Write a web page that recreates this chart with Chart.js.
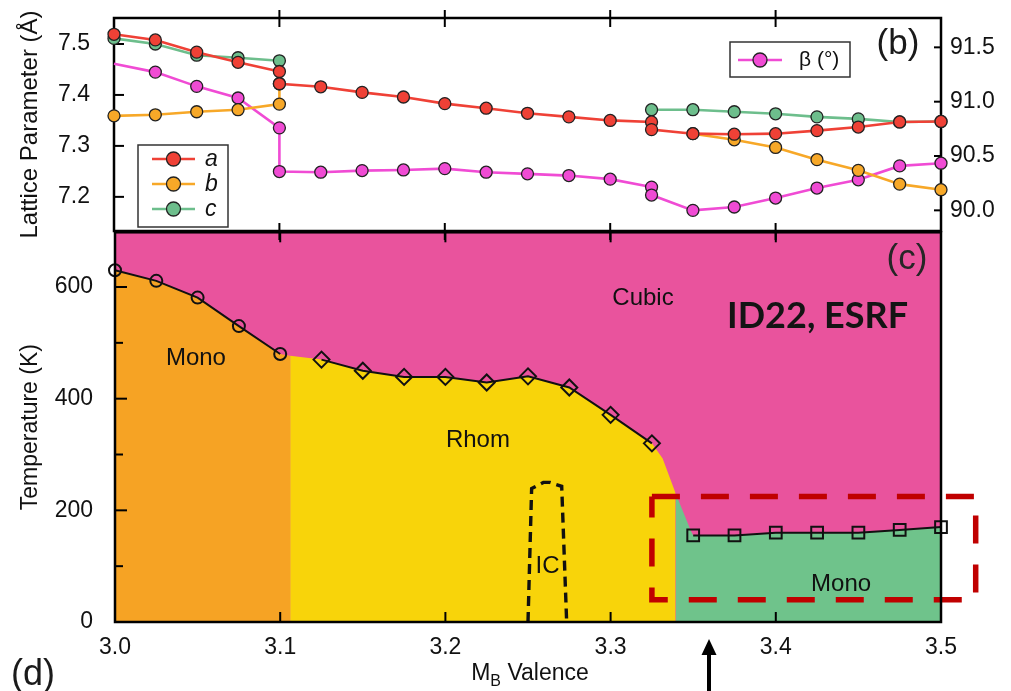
<!DOCTYPE html>
<html>
<head>
<meta charset="utf-8">
<script src="https://cdn.jsdelivr.net/npm/chart.js@4.4.1/dist/chart.umd.min.js"></script>
<style>
  html, body { margin: 0; padding: 0; background: #fff; width: 1011px; height: 691px; overflow: hidden; }
  #wrap { position: relative; width: 1011px; height: 691px; }
  canvas { position: absolute; left: 0; }
  #latticeCanvas { top: 0; z-index: 2; }
  #phaseCanvas { top: 222px; z-index: 1; }
</style>
</head>
<body>
<div id="wrap">
  <canvas id="phaseCanvas" width="1011" height="469"></canvas>
  <canvas id="latticeCanvas" width="1011" height="262"></canvas>
</div>
<script>
// ---------- (b) lattice parameters vs M_B valence ----------
const aValence = [3.0, 3.025, 3.05, 3.075, 3.1, 3.1, 3.125, 3.15, 3.175, 3.2, 3.225, 3.25, 3.275, 3.3, 3.325, 3.325, 3.35, 3.375, 3.4, 3.425, 3.45, 3.475, 3.5];
const aLattice = [7.519, 7.508, 7.484, 7.464, 7.446, 7.422, 7.416, 7.405, 7.396, 7.383, 7.374, 7.364, 7.357, 7.350, 7.347, 7.332, 7.324, 7.323, 7.324, 7.330, 7.337, 7.347, 7.348];

const bValence = [3.0, 3.025, 3.05, 3.075, 3.1, 3.1, 3.2, 3.35, 3.375, 3.4, 3.425, 3.45, 3.475, 3.5];
const bLattice = [7.359, 7.361, 7.367, 7.371, 7.382, 7.422, null, 7.324, 7.312, 7.297, 7.273, 7.252, 7.225, 7.214];

const cValence = [3.0, 3.025, 3.05, 3.075, 3.1, 3.2, 3.325, 3.35, 3.375, 3.4, 3.425, 3.45, 3.475, 3.5];
const cLattice = [7.511, 7.500, 7.478, 7.473, 7.467, null, 7.371, 7.371, 7.367, 7.363, 7.357, 7.353, 7.347, 7.348];

const betaValence = [3.0, 3.025, 3.05, 3.075, 3.1, 3.1, 3.125, 3.15, 3.175, 3.2, 3.225, 3.25, 3.275, 3.3, 3.325, 3.325, 3.35, 3.375, 3.4, 3.425, 3.45, 3.475, 3.5];
const betaAngle = [91.349, 91.272, 91.141, 91.034, 90.759, 90.357, 90.351, 90.366, 90.372, 90.384, 90.351, 90.336, 90.320, 90.287, 90.214, 90.141, 90.000, 90.031, 90.113, 90.205, 90.281, 90.409, 90.434];

// ---------- (c) phase diagram ----------
const monoLowValence = [3.0, 3.025, 3.05, 3.075, 3.1];
const monoLowTc = [630, 611, 581, 530, 480];
const rhomValence = [3.125, 3.15, 3.175, 3.2, 3.225, 3.25, 3.275, 3.3, 3.325];
const rhomTc = [470, 450, 439, 439, 429, 440, 420, 371, 320];
const monoHighValence = [3.35, 3.375, 3.4, 3.425, 3.45, 3.475, 3.5];
const monoHighTc = [155, 155, 160, 160, 160, 165, 170];

// phase-region outlines (upper edge of each filled area)
const cubicEdgeValence = [3.0, 3.5];
const cubicEdgeT = [698, 698];
const monoLowEdgeValence = [3.0, 3.025, 3.05, 3.075, 3.1, 3.106];
const monoLowEdgeT = [630, 611, 581, 530, 480, 477];
const rhomEdgeValence = [3.106, 3.125, 3.15, 3.175, 3.2, 3.225, 3.25, 3.275, 3.3, 3.325, 3.3315, 3.3394];
const rhomEdgeT = [477, 470, 450, 439, 439, 429, 440, 420, 371, 320, 293, 230];
const monoHighEdgeValence = [3.3394, 3.3485, 3.35, 3.375, 3.4, 3.425, 3.45, 3.475, 3.5];
const monoHighEdgeT = [230, 164, 155, 155, 160, 160, 160, 165, 170];

// incommensurate dome
const icValence = [3.250, 3.2522, 3.2593, 3.2633, 3.2704, 3.2734];
const icT = [0, 239, 250, 250, 243, 0];

// highlighted low-temperature monoclinic window
const boxValence = [3.325, 3.521, 3.521, 3.325, 3.325];
const boxT = [225, 225, 40, 40, 225];

// ---------- styling ----------
const FONT = "'Liberation Sans', Arial, Helvetica, sans-serif";
Chart.defaults.font.family = FONT;
Chart.defaults.color = '#111';

const RED = '#EF4136';
const ORANGE = '#F7A828';
const GREEN = '#6DBE8C';
const MAGENTA = '#F04BD4';

const PINK_FILL = '#E9539D';
const ORANGE_FILL = '#F6A324';
const YELLOW_FILL = '#F8D40A';
const GREEN_FILL = '#6FC38B';

const toPoints = (xs, ys) => xs.map((x, i) => ({ x, y: ys[i] }));

function seriesStyle(color) {
  return {
    borderColor: color,
    backgroundColor: color,
    pointBackgroundColor: color,
    pointBorderColor: '#222',
    pointBorderWidth: 1.3,
    pointRadius: 6,
    borderWidth: 2.6,
    tension: 0,
    spanGaps: false,
    clip: false,
    fill: false
  };
}

// fixed axis sizes so both panels share the same plot frame
const fixWidth = w => s => { s.width = w; s.paddingTop = 0; s.paddingBottom = 0; };
const fixHeight = h => s => { s.height = h; s.paddingLeft = 0; s.paddingRight = 0; };

// frame + inward ticks drawn through the chart's scales
function drawFrame(chart, opts) {
  const { ctx, chartArea: ca } = chart;
  ctx.save();
  ctx.strokeStyle = '#000';
  ctx.lineWidth = 2.5;
  ctx.strokeRect(ca.left, ca.top, ca.right - ca.left, ca.bottom - ca.top);
  ctx.lineWidth = 2;
  const mark = (side, p, len, out) => {
    ctx.beginPath();
    if (side === 'top') { ctx.moveTo(p, ca.top - out); ctx.lineTo(p, ca.top + len); }
    if (side === 'bottom') { ctx.moveTo(p, ca.bottom + out); ctx.lineTo(p, ca.bottom - len); }
    if (side === 'left') { ctx.moveTo(ca.left - out, p); ctx.lineTo(ca.left + len, p); }
    if (side === 'right') { ctx.moveTo(ca.right + out, p); ctx.lineTo(ca.right - len, p); }
    ctx.stroke();
  };
  (opts.ticks || []).forEach(spec => {
    const scale = chart.scales[spec.scale];
    const vals = scale.ticks.map(t => t.value);
    const step = vals.length > 1 ? vals[1] - vals[0] : 0;
    vals.forEach(v => {
      const inside = (val) => val > scale.min + 1e-9 && val < scale.max - 1e-9;
      if (inside(v)) mark(spec.side, scale.getPixelForValue(v), spec.len, spec.out || 0);
      if (spec.minorLen && step && inside(v + step / 2)) {
        mark(spec.side, scale.getPixelForValue(v + step / 2), spec.minorLen, 0);
      }
    });
  });
  ctx.restore();
}

const framePlugin = {
  id: 'frame',
  beforeDatasetsDraw(chart, args, opts) { if (opts.layer === 'under') drawFrame(chart, opts); },
  afterDatasetsDraw(chart, args, opts) { if (opts.layer !== 'under') drawFrame(chart, opts); }
};

function legendMarker(ctx, ds, x1, x2, y, r) {
  ctx.save();
  ctx.strokeStyle = ds.borderColor;
  ctx.lineWidth = ds.borderWidth;
  ctx.beginPath(); ctx.moveTo(x1, y); ctx.lineTo(x2, y); ctx.stroke();
  ctx.beginPath(); ctx.arc((x1 + x2) / 2, y, r, 0, Math.PI * 2);
  ctx.fillStyle = ds.pointBackgroundColor; ctx.fill();
  ctx.strokeStyle = ds.pointBorderColor; ctx.lineWidth = ds.pointBorderWidth; ctx.stroke();
  ctx.restore();
}

const latticeLegendPlugin = {
  id: 'latticeLegend',
  afterDraw(chart) {
    const ctx = chart.ctx;
    const ds = chart.data.datasets;
    ctx.save();
    // a, b, c box
    ctx.fillStyle = '#fff';
    ctx.fillRect(138, 145, 90, 82);
    ctx.strokeStyle = '#333';
    ctx.lineWidth = 1.5;
    ctx.strokeRect(138, 145, 90, 82);
    const rows = [159, 184, 209];
    [0, 1, 2].forEach((i, k) => {
      legendMarker(ctx, ds[i], 152, 195, rows[k], 7);
      ctx.fillStyle = '#111';
      ctx.font = 'italic 23px ' + FONT;
      ctx.textBaseline = 'middle';
      ctx.textAlign = 'left';
      ctx.fillText(ds[i].label, 205, rows[k] + 1);
    });
    // beta box
    ctx.fillStyle = '#fff';
    ctx.fillRect(730, 42, 120, 35);
    ctx.strokeStyle = '#333';
    ctx.lineWidth = 1.5;
    ctx.strokeRect(730, 42, 120, 35);
    legendMarker(ctx, ds[3], 738, 782, 60, 7);
    ctx.fillStyle = '#111';
    ctx.font = '21px ' + FONT;
    ctx.textBaseline = 'middle';
    ctx.fillText(ds[3].label, 799, 60);
    // panel letter
    ctx.font = '35px ' + FONT;
    ctx.textAlign = 'center';
    ctx.fillStyle = '#1a1a1a';
    ctx.fillText('(b)', 898, 44);
    ctx.restore();
  }
};

const betaRadius = betaValence.map((v, i) => (i === 0 ? 0 : 6));

new Chart(document.getElementById('latticeCanvas'), {
  type: 'line',
  data: {
    datasets: [
      Object.assign({ label: 'a', data: toPoints(aValence, aLattice), yAxisID: 'y', order: 0 }, seriesStyle(RED)),
      Object.assign({ label: 'b', data: toPoints(bValence, bLattice), yAxisID: 'y', order: 1 }, seriesStyle(ORANGE)),
      Object.assign({ label: 'c', data: toPoints(cValence, cLattice), yAxisID: 'y', order: 2 }, seriesStyle(GREEN)),
      Object.assign({ label: 'β (°)', data: toPoints(betaValence, betaAngle), yAxisID: 'y2', order: 3 }, seriesStyle(MAGENTA), { pointRadius: betaRadius })
    ]
  },
  options: {
    responsive: false,
    animation: false,
    events: [],
    layout: { padding: { top: 18, left: 0, right: 0, bottom: 0 } },
    plugins: {
      legend: { display: false },
      tooltip: { enabled: false },
      frame: {
        layer: 'under',
        ticks: [
          { scale: 'x', side: 'top', len: 9, out: 8 },
          { scale: 'x', side: 'bottom', len: 8, out: 9 },
          { scale: 'y', side: 'left', len: 10 },
          { scale: 'y2', side: 'right', len: 7 }
        ]
      }
    },
    scales: {
      x: {
        type: 'linear', min: 3.0, max: 3.5,
        ticks: { display: false, stepSize: 0.1, callback: v => v.toFixed(1) },
        grid: { display: false, drawTicks: false },
        border: { display: false },
        afterFit: fixHeight(31)
      },
      y: {
        position: 'left', min: 7.133, max: 7.551,
        ticks: { stepSize: 0.1, includeBounds: false, padding: 24, font: { size: 23 }, color: '#111', callback: v => v.toFixed(1) },
        grid: { display: false, drawTicks: false },
        border: { display: false },
        title: { display: true, text: 'Lattice Parameter (Å)', font: { size: 24 }, color: '#111', padding: { top: 16, bottom: 0 } },
        afterFit: fixWidth(114)
      },
      y2: {
        position: 'right', min: 89.81, max: 91.77,
        ticks: { stepSize: 0.5, includeBounds: false, padding: 9, font: { size: 23 }, color: '#111', callback: v => v.toFixed(1) },
        grid: { display: false, drawTicks: false },
        border: { display: false },
        afterFit: fixWidth(70)
      }
    }
  },
  plugins: [framePlugin, latticeLegendPlugin]
});

// ---------- phase diagram ----------
const phaseLabels = [
  { text: 'Cubic', x: 3.3196, t: 580, font: '24px ' + FONT, color: '#111', align: 'center' },
  { text: 'Mono', x: 3.0490, t: 473, font: '24px ' + FONT, color: '#111', align: 'center' },
  { text: 'Rhom', x: 3.2197, t: 325, font: '24px ' + FONT, color: '#111', align: 'center' },
  { text: 'IC', x: 3.2618, t: 100, font: '24px ' + FONT, color: '#111', align: 'center' },
  { text: 'Mono', x: 3.4395, t: 68, font: '24px ' + FONT, color: '#111', align: 'center' },
  { text: 'ID22, ESRF', x: 3.3705, t: 548, font: 'bold 36px Lato, ' + FONT, color: '#141414', align: 'left' },
  { text: '(c)', x: 3.4794, t: 650, font: '35px ' + FONT, color: '#262626', align: 'center' }
];

const phaseAnnotationPlugin = {
  id: 'phaseAnnotations',
  afterDraw(chart) {
    const { ctx, scales: { x, y } } = chart;
    ctx.save();
    ctx.textBaseline = 'middle';
    phaseLabels.forEach(l => {
      ctx.font = l.font;
      ctx.fillStyle = l.color;
      ctx.textAlign = l.align;
      ctx.fillText(l.text, x.getPixelForValue(l.x), y.getPixelForValue(l.t));
    });
    // axis title with subscript
    const big = '23px ' + FONT, small = '16px ' + FONT;
    ctx.font = big; const wM = ctx.measureText('M').width;
    const wV = ctx.measureText(' Valence').width;
    ctx.font = small; const wB = ctx.measureText('B').width;
    const total = wM + wB + wV;
    let tx = 530 - total / 2;
    const ty = 458;
    ctx.textAlign = 'left';
    ctx.textBaseline = 'alphabetic';
    ctx.fillStyle = '#111';
    ctx.font = big; ctx.fillText('M', tx, ty); tx += wM;
    ctx.font = small; ctx.fillText('B', tx, ty + 6); tx += wB;
    ctx.font = big; ctx.fillText(' Valence', tx, ty);
    // panel letter (d)
    ctx.font = '36px ' + FONT;
    ctx.textBaseline = 'middle';
    ctx.textAlign = 'center';
    ctx.fillStyle = '#1a1a1a';
    ctx.fillText('(d)', 33, 453);
    // arrow marking the studied composition
    ctx.strokeStyle = '#000';
    ctx.fillStyle = '#000';
    ctx.lineWidth = 4;
    ctx.beginPath(); ctx.moveTo(709, 469); ctx.lineTo(709, 428); ctx.stroke();
    ctx.beginPath(); ctx.moveTo(709, 417); ctx.lineTo(701.5, 433); ctx.lineTo(716.5, 433); ctx.closePath(); ctx.fill();
    ctx.restore();
  }
};

function region(label, xs, ts, color, order) {
  return {
    label, data: toPoints(xs, ts), fill: 'origin', backgroundColor: color,
    borderWidth: 0, borderColor: color, pointRadius: 0, tension: 0, order
  };
}

function boundary(label, xs, ts, style, radius, order) {
  return {
    label, data: toPoints(xs, ts), fill: false, borderColor: '#111', borderWidth: 2,
    pointStyle: style, pointRadius: radius, pointBackgroundColor: 'rgba(0,0,0,0)',
    pointBorderColor: '#111', pointBorderWidth: 2, tension: 0, clip: false, order
  };
}

new Chart(document.getElementById('phaseCanvas'), {
  type: 'line',
  data: {
    datasets: [
      region('Cubic', cubicEdgeValence, cubicEdgeT, PINK_FILL, 20),
      region('Mono', monoLowEdgeValence, monoLowEdgeT, ORANGE_FILL, 19),
      region('Rhom', rhomEdgeValence, rhomEdgeT, YELLOW_FILL, 18),
      region('Mono (high valence)', monoHighEdgeValence, monoHighEdgeT, GREEN_FILL, 17),
      {
        label: 'IC', data: toPoints(icValence, icT), fill: false, borderColor: '#111',
        borderWidth: 3.4, borderDash: [10, 6], pointRadius: 0, tension: 0, order: 5
      },
      boundary('Mono → Cubic', monoLowValence, monoLowTc, 'circle', 6, 3),
      boundary('Rhom → Cubic', rhomValence, rhomTc, 'rectRot', 8, 3),
      boundary('Mono → Cubic (high valence)', monoHighValence, monoHighTc, 'rect', 8.3, 3),
      {
        label: 'window', data: toPoints(boxValence, boxT), fill: false, borderColor: '#C00000',
        borderWidth: 5.5, borderDash: [28, 21], borderCapStyle: 'butt', pointRadius: 0,
        tension: 0, clip: false, order: 1
      }
    ]
  },
  options: {
    responsive: false,
    animation: false,
    events: [],
    layout: { padding: { top: 9, left: 0, right: 70, bottom: 0 } },
    plugins: {
      legend: { display: false },
      tooltip: { enabled: false },
      frame: {
        layer: 'over',
        ticks: [
          { scale: 'x', side: 'top', len: 10 },
          { scale: 'x', side: 'bottom', len: 10 },
          { scale: 'y', side: 'left', len: 12, minorLen: 8 }
        ]
      }
    },
    scales: {
      x: {
        type: 'linear', min: 3.0, max: 3.5,
        ticks: { stepSize: 0.1, padding: 12, font: { size: 23 }, color: '#111', callback: v => v.toFixed(1), maxRotation: 0, autoSkip: false },
        grid: { display: false, drawTicks: false },
        border: { display: false },
        afterFit: fixHeight(69)
      },
      y: {
        position: 'left', min: 0, max: 698,
        ticks: {
          stepSize: 200, includeBounds: false, padding: 22, font: { size: 23 }, color: '#111', autoSkip: false,
          callback: v => String(Math.round(v))
        },
        grid: { display: false, drawTicks: false },
        border: { display: false },
        title: { display: true, text: 'Temperature (K)', font: { size: 23 }, color: '#111', padding: { top: 17, bottom: 0 } },
        afterFit: fixWidth(115)
      }
    }
  },
  plugins: [framePlugin, phaseAnnotationPlugin]
});
</script>
</body>
</html>
